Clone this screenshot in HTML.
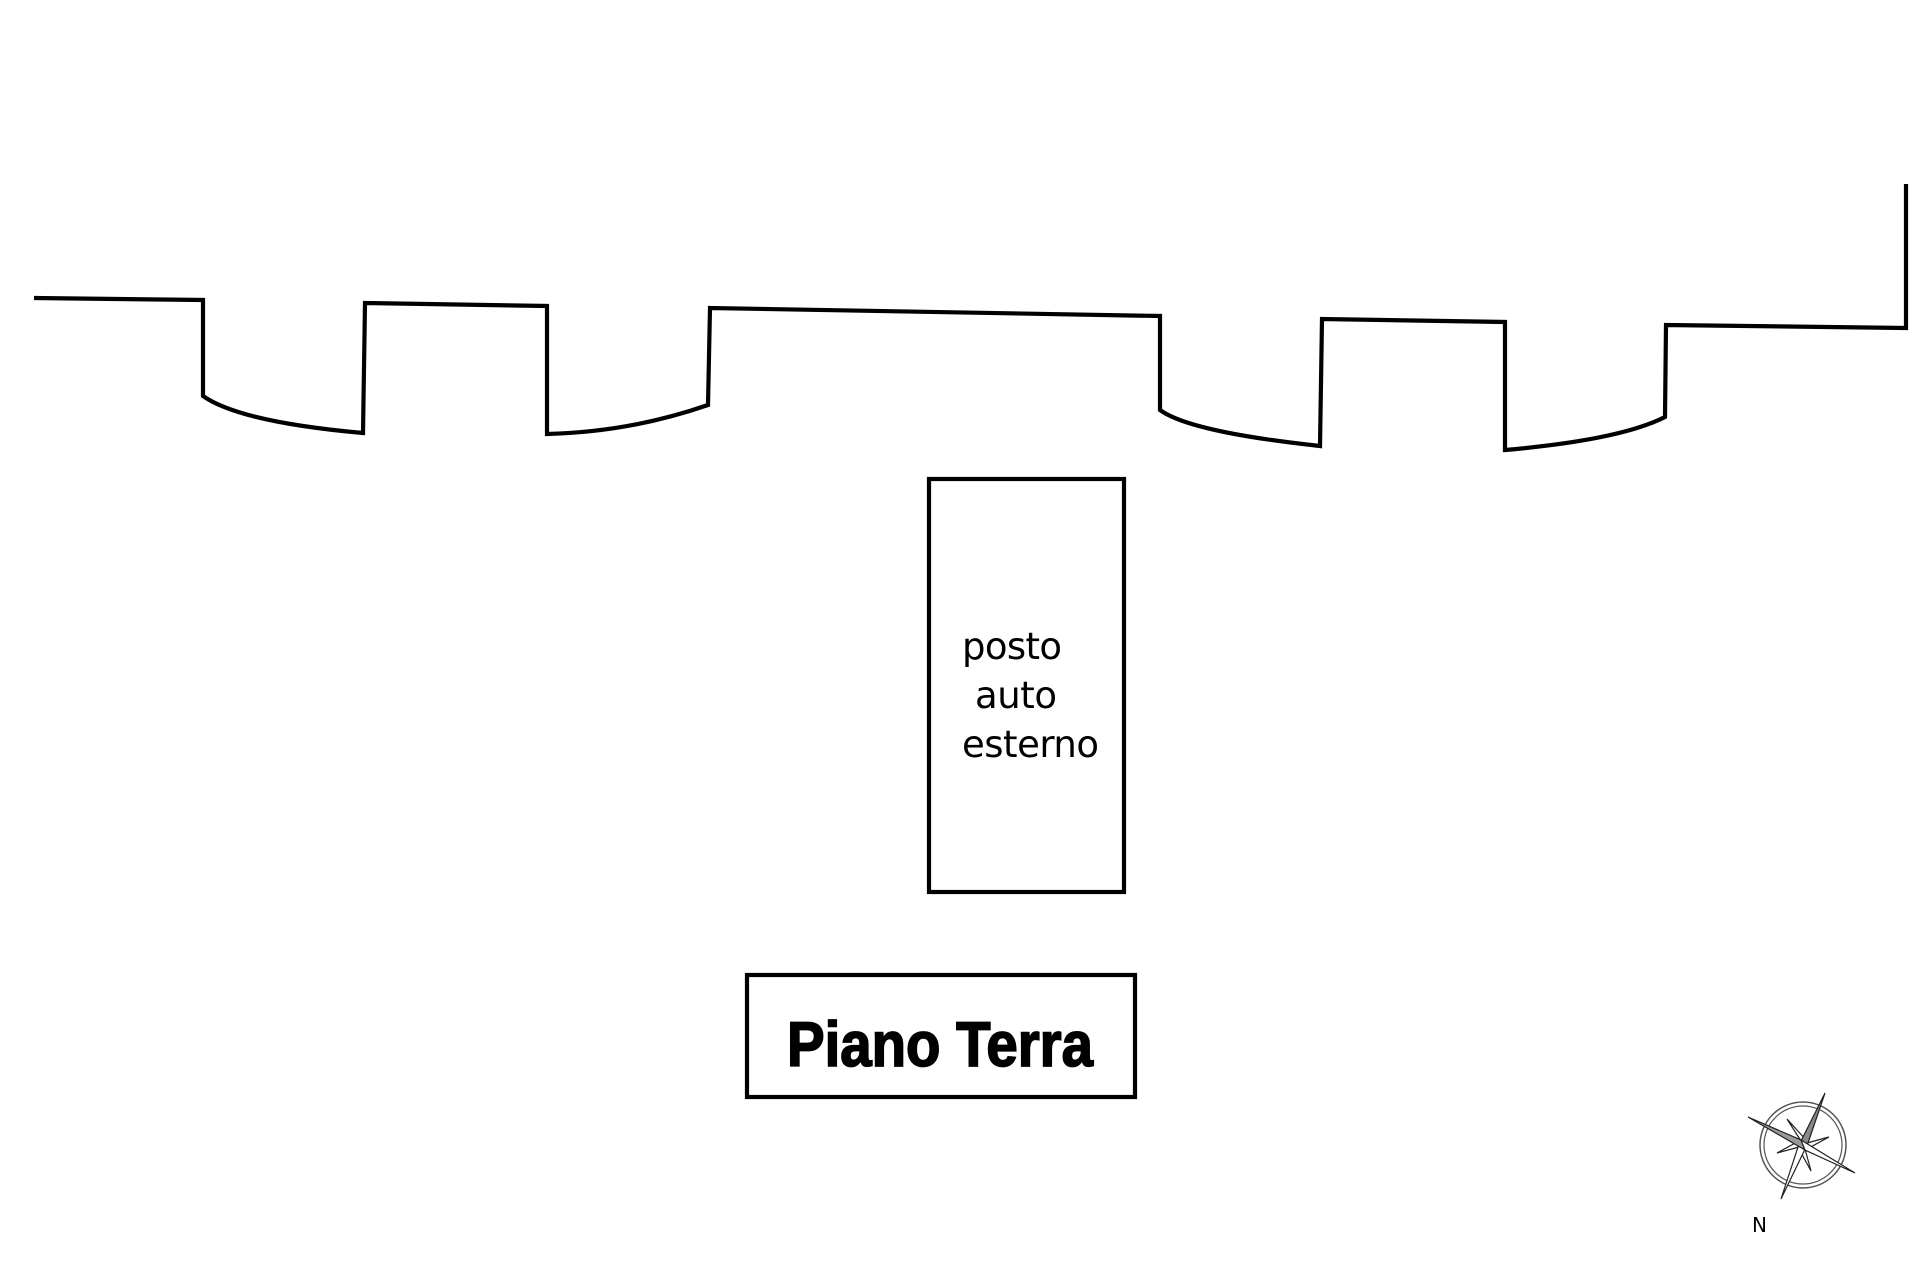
<!DOCTYPE html>
<html><head><meta charset="utf-8"><style>
html,body{margin:0;padding:0;background:#fff;}
svg{display:block;}
</style></head><body>
<svg width="1920" height="1280" viewBox="0 0 1920 1280" xmlns="http://www.w3.org/2000/svg">
<g fill="none" stroke="#000" stroke-width="4.2" stroke-linejoin="miter">
<path d="M34 298 L203 300 L203 396 Q240 422 363 433 L365 303 L547 306 L547 434 Q630 432 708 405 L710 308 L1160 316 L1160 410 Q1190 432 1320 446 L1322 319 L1505 322 L1505 450 Q1620 440 1665 417 L1666 325 L1906 328 L1906 184"/>
<rect x="929" y="479" width="195" height="413"/>
<rect x="747" y="975" width="388" height="122"/>
</g>
<g font-family="'DejaVu Sans','Liberation Sans',sans-serif" font-size="37" fill="#000">
<text x="962" y="659" textLength="100">posto</text>
<text x="975" y="708" textLength="82">auto</text>
<text x="962" y="757" textLength="137">esterno</text>
</g>
<text x="787" y="1065" font-family="'Liberation Sans',sans-serif" font-weight="bold" font-size="55" fill="#000" stroke="#000" stroke-width="1.5" transform="translate(0,-148) scale(1,1.14)" textLength="306" lengthAdjust="spacingAndGlyphs">Piano Terra</text>
<g transform="translate(1803,1145)">
<circle r="43" fill="none" stroke="#555" stroke-width="1.5"/>
<circle r="39" fill="none" stroke="#555" stroke-width="1.2"/>
<g stroke="#222" stroke-width="1.2" fill="#fff">
<polygon points="-16,-26 -2,-4 4,-4"/>
<polygon points="26,-8 4,-2 4,4"/>
<polygon points="-26,8 -4,2 -4,-4"/>
<polygon points="8,26 2,4 -4,4"/>
<polygon points="22,-52 5,-2 -5,2" fill="#888"/>
<polygon points="-22,54 -5,2 5,-2" fill="#fff"/>
<polygon points="-55,-28 -2,-5 2,5" fill="#999"/>
<polygon points="52,28 2,5 -2,-5" fill="#fff"/>
</g>
</g>
<text x="1752" y="1232" font-family="'DejaVu Sans',sans-serif" font-size="20" fill="#000">N</text>
</svg>
</body></html>
